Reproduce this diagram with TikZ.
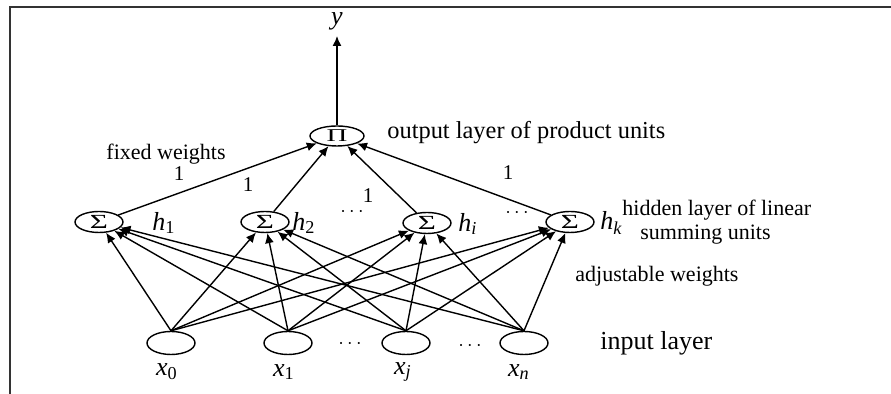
\documentclass[tikz,border=0pt]{standalone}
\usepackage{fontspec}
\setmainfont{Liberation Serif}
\usetikzlibrary{arrows.meta,shapes.geometric}
\newcommand{\unitsym}[3]{\smash{\raisebox{#1}{\scalebox{#2}[1]{#3}}}}
\begin{document}
\begin{tikzpicture}[x=0.5pt,y=-0.5pt,
  unit/.style={draw, ellipse, line width=0.7pt, minimum width=24pt, minimum height=10.5pt, inner sep=0pt, font=\fontsize{10}{10}\selectfont},
  inunit/.style={unit, minimum height=11.5pt},
  conn/.style={line width=0.7pt, -{Latex[length=5pt,width=4.5pt]}},
  lbl/.style={inner sep=0pt, font=\fontsize{11}{13}\selectfont},
  outlbl/.style={inner sep=0pt, font=\fontsize{12.2}{14}\selectfont},
  inlbl/.style={inner sep=0pt, font=\fontsize{13}{14}\selectfont},
  var/.style={inner sep=0pt, font=\fontsize{13}{14}\selectfont\itshape},
  num/.style={inner sep=0pt, font=\fontsize{10.5}{12}\selectfont},
  dotsl/.style={inner sep=0pt, font=\fontsize{10}{12}\selectfont},
  frame/.style={line width=1.2pt, black!80}
]
\useasboundingbox (0,0) rectangle (891,394);
\draw[frame] (10,394) -- (10,7) -- (891,7);

% output unit
\node[unit, minimum width=27pt, minimum height=10pt, font=\fontsize{9}{9}\selectfont] (P) at (337,136) {\unitsym{-2.9pt}{1.6}{Π}};
\coordinate (yend) at (337,36);
\node[var] (ylab) at (337,21) {y};
\draw[conn] (P) -- (yend);

% hidden units
\node[unit] (s1) at (99,222) {\unitsym{-3.3pt}{1.55}{Σ}};
\node[unit] (s2) at (265,222) {\unitsym{-3.3pt}{1.55}{Σ}};
\node[unit] (si) at (427,223) {\unitsym{-3.3pt}{1.55}{Σ}};
\node[unit] (sk) at (570,222) {\unitsym{-3.3pt}{1.55}{Σ}};

% input units
\node[inunit] (x0) at (171,343) {};
\node[inunit] (x1) at (288,343) {};
\node[inunit] (xj) at (406,343) {};
\node[inunit] (xn) at (524,343) {};

% connections input -> hidden
\foreach \i in {x0,x1,xj,xn}{
  \foreach \h in {s1,s2,si,sk}{
    \draw[conn] (\i.north) -- (\h);
  }
}
% hidden -> output
\foreach \h in {s1,s2,si,sk}{
  \draw[conn] (\h) -- (P);
}

% hidden labels
\node[var, anchor=west] (lh1) at (152,223) {h\textsubscript{\upshape 1}};
\node[var, anchor=west] (lh2) at (292,223) {h\textsubscript{\upshape 2}};
\node[var, anchor=west] (lhi) at (458,224) {h\textsubscript{i}};
\node[var, anchor=west] (lhk) at (600,223) {h\textsubscript{k}};

% input labels
\node[var] (lx0) at (167,372) {x\textsubscript{\upshape 0}};
\node[var] (lx1) at (284,372) {x\textsubscript{\upshape 1}};
\node[var] (lxj) at (403,372) {x\textsubscript{j}};
\node[var] (lxn) at (519,372) {x\textsubscript{n}};

% dots
\node[dotsl] (d1) at (352,212) {$\cdots$};
\node[dotsl] (d2) at (517,213) {$\cdots$};
\node[dotsl] (d3) at (350,344) {$\cdots$};
\node[dotsl] (d4) at (470,346) {$\cdots$};

% weight numbers
\node[num] (w1) at (179,174) {1};
\node[num] (w2) at (248,185) {1};
\node[num] (w3) at (368,196) {1};
\node[num] (w4) at (508,173) {1};

% annotations
\node[lbl] (fw) at (166,154) {fixed weights};
\node[outlbl, anchor=west] (ol) at (387,133) {output layer of product units};
\node[lbl, anchor=west] (hl) at (622,210) {hidden layer of linear};
\node[lbl, anchor=west] (su) at (640,235) {summing units};
\node[lbl, anchor=west] (aw) at (575,276) {adjustable weights};
\node[inlbl, anchor=west] (il) at (600,343) {input layer};
\end{tikzpicture}
\end{document}
